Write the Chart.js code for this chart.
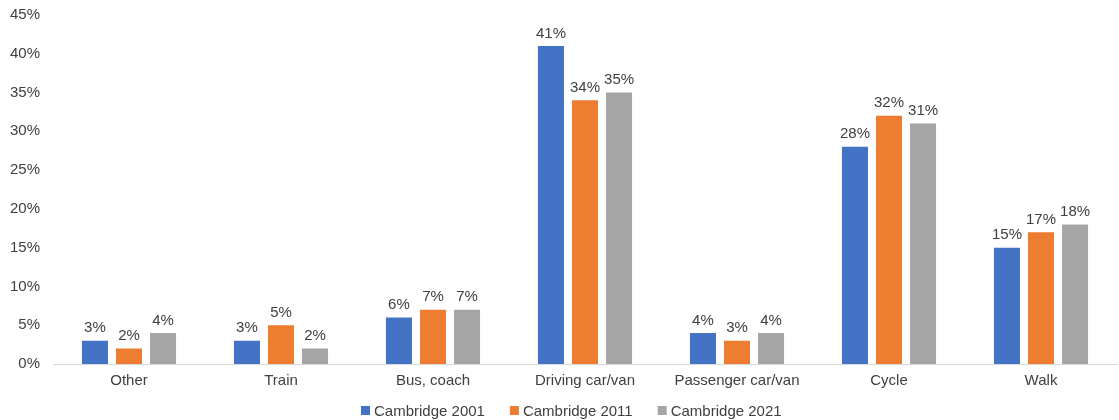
<!DOCTYPE html>
<html>
<head>
<meta charset="utf-8">
<style>
  html, body { margin: 0; padding: 0; background: #fff; }
  #wrap { width: 1119px; height: 420px; position: relative; overflow: hidden; }
  #c { position: absolute; left: 0; top: -7px; }
</style>
<script src="https://cdn.jsdelivr.net/npm/chart.js@4/dist/chart.umd.min.js"></script>
</head>
<body>
<div id="wrap"><canvas id="c" width="1119" height="427"></canvas></div>
<script>
const categories = ['Other', 'Train', 'Bus, coach', 'Driving car/van', 'Passenger car/van', 'Cycle', 'Walk'];
const seriesNames = ['Cambridge 2001', 'Cambridge 2011', 'Cambridge 2021'];
const values2001 = [3, 3, 6, 41, 4, 28, 15];
const values2011 = [2, 5, 7, 34, 3, 32, 17];
const values2021 = [4, 2, 7, 35, 4, 31, 18];
const seriesColors = ['#4472C4', '#ED7D31', '#A5A5A5'];

const textColor = '#404040';
const fontFamily = '"Liberation Sans", Arial, sans-serif';
const fontSize = 15;

// Writes each bar's value just above it
const valueLabels = {
  id: 'valueLabels',
  afterDatasetsDraw(chart) {
    const ctx = chart.ctx;
    ctx.save();
    ctx.font = fontSize + 'px ' + fontFamily;
    ctx.fillStyle = textColor;
    ctx.textAlign = 'center';
    ctx.textBaseline = 'bottom';
    chart.data.datasets.forEach((ds, i) => {
      chart.getDatasetMeta(i).data.forEach((bar, j) => {
        ctx.fillText(ds.data[j] + '%', bar.x, bar.y - 5);
      });
    });
    ctx.restore();
  }
};

// Legend row under the axis labels: small square swatch + series name
const bottomLegend = {
  id: 'bottomLegend',
  afterDraw(chart) {
    const ctx = chart.ctx;
    const box = 9, textGap = 4, itemGap = 25;
    ctx.save();
    ctx.font = fontSize + 'px ' + fontFamily;
    ctx.textBaseline = 'middle';
    ctx.textAlign = 'left';
    const items = chart.data.datasets.map(ds => ({
      text: ds.label, color: ds.backgroundColor, w: ctx.measureText(ds.label).width
    }));
    const total = items.reduce((s, it) => s + box + textGap + it.w, 0) + itemGap * (items.length - 1);
    let x = Math.round((chart.width - total) / 2) + 12;
    const cy = chart.height - 9;
    items.forEach(it => {
      ctx.fillStyle = it.color;
      ctx.fillRect(x, cy - 5, box, box);
      ctx.fillStyle = textColor;
      ctx.fillText(it.text, x + box + textGap, cy + 1);
      x += box + textGap + it.w + itemGap;
    });
    ctx.restore();
  }
};

const datasets = [values2001, values2011, values2021].map((vals, i) => ({
  label: seriesNames[i],
  data: vals,
  backgroundColor: seriesColors[i],
  borderWidth: 0,
  categoryPercentage: 0.672,
  barPercentage: 0.765
}));

new Chart(document.getElementById('c'), {
  type: 'bar',
  data: { labels: categories, datasets },
  options: {
    responsive: false,
    animation: false,
    layout: { padding: { left: 10, right: 2, top: 11, bottom: 30 } },
    plugins: {
      tooltip: { enabled: false },
      legend: { display: false }
    },
    scales: {
      x: {
        grid: { display: false, drawTicks: false },
        border: { color: '#D9D9D9', width: 1 },
        ticks: { color: textColor, padding: 8, font: { family: fontFamily, size: fontSize } },
        afterFit: scale => { scale.height = 26; }
      },
      y: {
        min: 0,
        max: 45,
        grid: { display: false, drawTicks: false },
        border: { display: false },
        ticks: {
          stepSize: 5,
          padding: 13,
          color: textColor,
          font: { family: fontFamily, size: fontSize },
          callback: v => v + '%'
        },
        afterFit: scale => { scale.width = 43; }
      }
    }
  },
  plugins: [valueLabels, bottomLegend]
});
</script>
</body>
</html>
